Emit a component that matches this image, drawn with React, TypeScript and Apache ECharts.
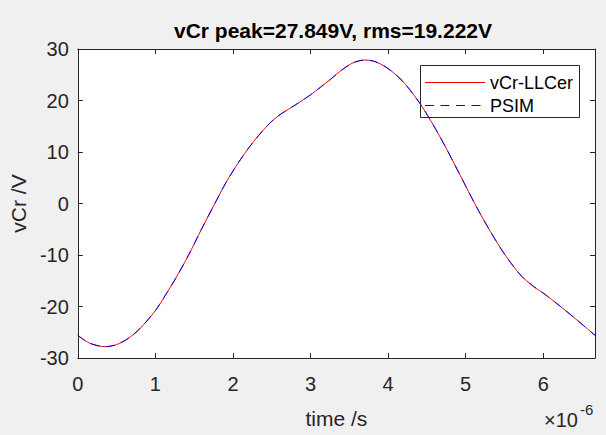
import React, { useEffect, useRef } from "react";
import * as echarts from "echarts";

const timeUs = [0, 0.15, 0.35, 0.5, 0.66, 0.8, 1.0, 1.15, 1.256, 1.425, 1.594, 1.763, 1.9, 2.0, 2.1, 2.208, 2.33, 2.462, 2.55, 2.63, 2.8, 3.0, 3.13, 3.265, 3.4, 3.52, 3.6, 3.69, 3.8, 3.9, 4.0, 4.1, 4.197, 4.31, 4.43, 4.58, 4.725, 4.86, 5.0, 5.148, 5.317, 5.486, 5.656, 5.74, 5.825, 5.91, 6.0, 6.206, 6.417, 6.667];
const vCrLLCer = [-25.6, -27.1, -27.8, -27.4, -26.1, -24.3, -20.8, -17.3, -14.7, -10.1, -5.0, -0.1, 3.8, 6.3, 8.6, 10.9, 13.2, 15.4, 16.6, 17.5, 19.1, 21.1, 22.6, 24.2, 25.9, 27.1, 27.6, 27.85, 27.7, 27.1, 26.2, 25.0, 23.6, 21.5, 19.0, 15.3, 11.4, 7.5, 3.4, -0.9, -5.4, -9.5, -13.0, -14.4, -15.5, -16.5, -17.4, -19.8, -22.4, -25.6];
const vCrPSIM = [-25.6, -27.1, -27.8, -27.4, -26.1, -24.3, -20.8, -17.3, -14.7, -10.1, -5.0, -0.1, 3.8, 6.3, 8.6, 10.9, 13.2, 15.4, 16.6, 17.5, 19.1, 21.1, 22.6, 24.2, 25.9, 27.1, 27.6, 27.85, 27.7, 27.1, 26.2, 25.0, 23.6, 21.5, 19.0, 15.3, 11.4, 7.5, 3.4, -0.9, -5.4, -9.5, -13.0, -14.4, -15.5, -16.5, -17.4, -19.8, -22.4, -25.6];
const titleText = "vCr peak=27.849V, rms=19.222V";
const seriesNames = ["vCr-LLCer", "PSIM"];
const xRange = [0, 6.667];
const yRange = [-30, 30];

const FONT = "'Liberation Sans', Arial, Helvetica, sans-serif";
const AX = "#262626";
const RED = "#ff0000";
const BLUE = "#0000ff";
const DASH = [9, 6.5];

export default function App() {
  const ref = useRef<HTMLDivElement>(null);
  useEffect(() => {
    document.body.style.margin = "0";
    const chart = echarts.init(ref.current!, null, { renderer: "svg" });
    const xBase = {
      type: "value" as const,
      min: xRange[0],
      max: xRange[1],
      interval: 1,
      axisLine: { show: true, onZero: false, lineStyle: { color: AX, width: 1 } },
      axisTick: { show: true, inside: true, length: 5, lineStyle: { color: AX } },
      splitLine: { show: false },
    };
    const yBase = {
      type: "value" as const,
      min: yRange[0],
      max: yRange[1],
      interval: 10,
      axisLine: { show: true, onZero: false, lineStyle: { color: AX, width: 1 } },
      axisTick: { show: true, inside: true, length: 5, lineStyle: { color: AX } },
      splitLine: { show: false },
    };
    const toData = (vals: number[]) => timeUs.map((t, i) => [t, vals[i]]);
    chart.setOption({
      animation: false,
      backgroundColor: "#f0f0f0",
      title: {
        text: titleText,
        left: 333,
        top: 20,
        textAlign: "center",
        padding: 0,
        textStyle: { fontSize: 21, fontWeight: "bold", color: "#000", fontFamily: FONT },
      },
      grid: { left: 71, right: 11, top: 49, bottom: 77, show: true, backgroundColor: "#fff", borderWidth: 0 },
      xAxis: [
        {
          ...xBase,
          position: "bottom",
          name: "time /s",
          nameLocation: "middle",
          nameGap: 50,
          nameTextStyle: { fontSize: 21, color: AX, fontFamily: FONT },
          axisLabel: { fontSize: 20, color: AX, fontFamily: FONT, margin: 16, showMaxLabel: false },
        },
        { ...xBase, position: "top", axisLabel: { show: false } },
      ],
      yAxis: [
        {
          ...yBase,
          position: "left",
          name: "vCr /V",
          nameLocation: "middle",
          nameGap: 39,
          nameTextStyle: { fontSize: 21, color: AX, fontFamily: FONT },
          axisLabel: { fontSize: 20, color: AX, fontFamily: FONT, margin: 9 },
        },
        { ...yBase, position: "right", axisLabel: { show: false } },
      ],
      series: [
        {
          name: seriesNames[0],
          type: "line",
          data: toData(vCrLLCer),
          smooth: 0.3,
          showSymbol: false,
          symbol: "none",
          lineStyle: { color: RED, width: 1 },
          itemStyle: { color: RED },
        },
        {
          name: seriesNames[1],
          type: "line",
          data: toData(vCrPSIM),
          smooth: 0.3,
          showSymbol: false,
          symbol: "none",
          lineStyle: { color: BLUE, width: 1, type: DASH },
          itemStyle: { color: BLUE },
        },
      ],
      graphic: [
        {
          type: "group",
          left: 420,
          top: 65,
          children: [
            { type: "rect", shape: { x: 0.5, y: 0.5, width: 159, height: 52 }, style: { fill: "#fff", stroke: AX, lineWidth: 1 } },
            { type: "line", shape: { x1: 5, y1: 17.5, x2: 65, y2: 17.5 }, style: { stroke: RED, lineWidth: 1 } },
            { type: "line", shape: { x1: 5, y1: 40.5, x2: 65, y2: 40.5 }, style: { stroke: BLUE, lineWidth: 1, lineDash: DASH } },
            { type: "text", x: 70, y: 17.5, style: { text: seriesNames[0], fontSize: 18, fill: "#000", fontFamily: FONT, verticalAlign: "middle" } },
            { type: "text", x: 70, y: 40.5, style: { text: seriesNames[1], fontSize: 18, fill: "#000", fontFamily: FONT, verticalAlign: "middle" } },
          ],
        },
        { type: "text", left: 544, top: 410, style: { text: "×10", fontSize: 20, fill: AX, fontFamily: FONT } },
        { type: "text", left: 580, top: 402, style: { text: "-6", fontSize: 15, fill: AX, fontFamily: FONT } },
      ],
    });
    return () => chart.dispose();
  }, []);
  return <div ref={ref} style={{ width: 606, height: 435 }} />;
}
